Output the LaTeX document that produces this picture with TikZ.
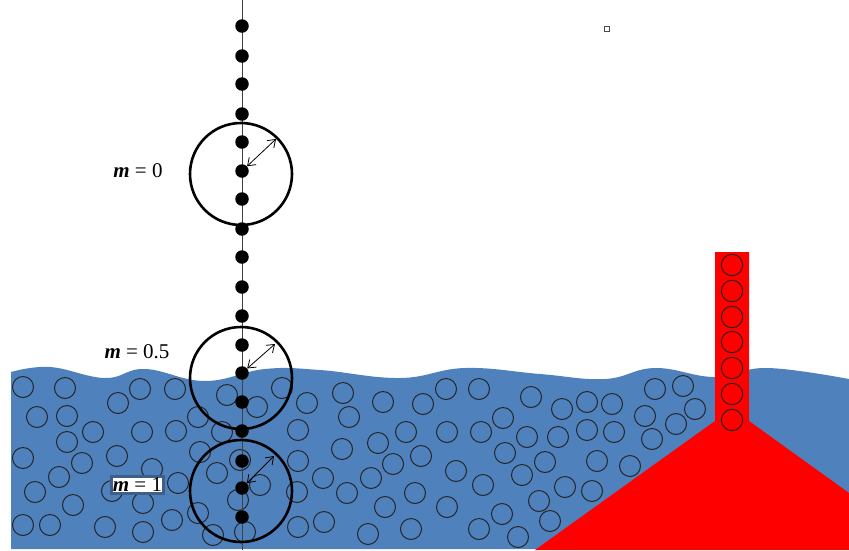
\documentclass[tikz,border=0pt]{standalone}
\usepackage{fontspec}
\setmainfont{Liberation Serif}
\usetikzlibrary{arrows.meta}
\definecolor{sea}{HTML}{4F81BD}
\definecolor{lava}{HTML}{FF0000}
\definecolor{tagframe}{HTML}{3E5F8A}
\begin{document}
\begin{tikzpicture}[x=1pt,y=-1pt,
  bubble/.style={draw=black!85, line width=1pt},
  bead/.style={circle, fill=black, inner sep=0pt, minimum size=13.5pt},
  ring/.style={circle, draw=black, line width=2.6pt, minimum size=102pt, inner sep=0pt},
  spring/.style={{Straight Barb[length=7pt,width=10pt]}-{Straight Barb[length=7pt,width=10pt]}, line width=0.8pt},
  tag/.style={font=\fontsize{21}{24}\selectfont, inner sep=2pt}]
\useasboundingbox (0,0) rectangle (849,550);

% liquid with a wavy surface
\fill[sea] (11,549) -- plot[smooth, tension=0.7] coordinates {
  (11,372) (50,367) (105,378) (145,369) (205,381) (265,369) (320,370)
  (400,378) (465,368) (540,374) (605,379) (655,368) (715,377) (767,368) (849,379)}
  -- (849,549) -- cycle;

% particles suspended in the liquid
\foreach \x/\y in {
  23/387, 65/388, 118/403, 140/389, 175/389, 37/417, 67/416, 93/432, 142/432,
  176/431, 198/417, 227/395, 257/407, 282/388, 67/442, 23/458, 82/463, 117/456,
  59/477, 152/469, 200/452, 222/432, 240/460, 35/492, 73/505, 112/491, 178/483,
  217/473, 260/485, 238/500, 143/503, 23/525, 50/525, 105/527, 143/532, 172/520,
  198/513, 213/535, 245/532,
  298/430, 298/461, 297/492, 298/527,
  307/403, 343/393, 383/402, 423/404, 446/389, 479/389, 531/397, 562/409, 587/402,
  349/417, 503/418, 406/432, 447/432, 481/432, 527/437, 558/437, 587/430,
  378/443, 342/449, 421/456, 393/464, 505/453, 545/462, 597/461,
  323/478, 371/478, 456/471, 522/475, 347/493, 415/493, 483/485, 565/487, 592/491,
  385/507, 447/507, 539/501, 502/514, 550/521, 324/522, 368/534, 411/529, 479/529, 518/537,
  612/404, 655/389, 683/386, 645/416, 695/409, 676/424, 652/439, 614/432, 630/466}
  \draw[bubble] (\x,\y) circle[radius=10.5];

% chimney and cone
\fill[lava] (535,550) -- (715,421) -- (715,252) -- (749,252) -- (749,421)
  -- (849,493) -- (849,550) -- cycle;
\foreach \y in {265,291,317,342,368,394,420}
  \draw[bubble] (732,\y) circle[radius=10.7];

% chain of beads on a vertical axis
\coordinate (axtop) at (242,0);
\coordinate (axbot) at (242,550);
\draw[black!75, line width=0.9pt] (axtop) -- (axbot);
\foreach [count=\i] \y in {26,56,84,114,142,171,199,229,257,287,316,345,373,402,431,461,488,517}
  \node[bead] (d\i) at (242,\y) {};

% interaction ranges
\node[ring] (r0) at (241,174) {};
\node[ring] (r1) at (241,378) {};
\node[ring] (r2) at (241,491) {};
\coordinate (t0) at (276,139);
\coordinate (t1) at (275,344);
\coordinate (t2) at (274,456);
\draw[spring] (d6) -- (t0);
\draw[spring] (d13) -- (t1);
\draw[spring] (d17) -- (t2);

% labels
\node[tag] (l0) at (138,171) {{\bfseries\itshape m}\hspace{0.25em}=\hspace{0.25em}0};
\node[tag] (l1) at (137,352) {{\bfseries\itshape m}\hspace{0.25em}=\hspace{0.25em}0.5};
\node[tag, fill=white, draw=tagframe, line width=2.2pt, inner sep=1.5pt] (l2) at (137.5,485)
  {{\bfseries\itshape m}\hspace{0.25em}=\hspace{0.25em}1};

% small marker
\node[draw=black!70, minimum size=5.5pt, inner sep=0pt, line width=0.8pt] (sq) at (607,29) {};
\end{tikzpicture}
\end{document}
